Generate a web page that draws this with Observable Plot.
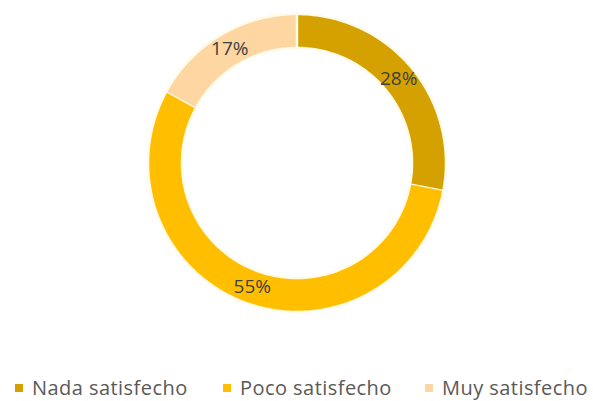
<!DOCTYPE html>
<html><head><meta charset="utf-8">
<script src="https://cdn.jsdelivr.net/npm/d3@7"></script>
<script src="https://cdn.jsdelivr.net/npm/@observablehq/plot@0.6"></script>
<style>
body{margin:0;background:#fff;width:593px;height:401px;overflow:hidden;position:relative;font-family:"Open Sans",sans-serif}
#legend{position:absolute;left:0;top:374px;width:593px;height:28px;color:#595959;font-size:20px;letter-spacing:0.45px;white-space:nowrap}
#legend .item{position:absolute;top:0;display:flex;align-items:center}
#legend .sw{width:8px;height:8px;margin-right:9px;display:inline-block}
</style></head><body>
<div id="chart"></div>
<div id="legend"></div>
<script>
const categories = ["Nada satisfecho", "Poco satisfecho", "Muy satisfecho"];
const values = [28, 55, 17];
const labels = ["28%", "55%", "17%"];
const colors = ["#D5A100", "#FFBF00", "#FDD6A2"];

const outerR = 1, innerR = 0.772;
const total = d3.sum(values);
let cum = 0;
const ring = [];
const labelRows = [];
values.forEach((v, i) => {
  const a0 = cum / total * 2 * Math.PI;
  cum += v;
  const a1 = cum / total * 2 * Math.PI;
  const n = 80;
  for (let k = 0; k <= n; k++) {
    const a = a0 + (a1 - a0) * k / n;
    ring.push({cat: categories[i], x: outerR * Math.sin(a), y: outerR * Math.cos(a)});
  }
  for (let k = n; k >= 0; k--) {
    const a = a0 + (a1 - a0) * k / n;
    ring.push({cat: categories[i], x: innerR * Math.sin(a), y: innerR * Math.cos(a)});
  }
  const am = (a0 + a1) / 2, rm = (outerR + innerR) / 2;
  labelRows.push({cat: categories[i], label: labels[i], x: rm * Math.sin(am), y: rm * Math.cos(am)});
});

const chart = Plot.plot({
  width: 593, height: 360,
  marginLeft: 147.5, marginRight: 147.5, marginTop: 13.5, marginBottom: 48.5,
  x: {domain: [-1, 1], axis: null},
  y: {domain: [-1, 1], axis: null},
  color: {type: "ordinal", domain: categories, range: colors},
  style: {background: "#fff"},
  marks: [
    Plot.line(ring, {x: "x", y: "y", z: "cat", fill: "cat", stroke: "#fffbea", strokeWidth: 2.5, curve: "linear"}),
    Plot.text(labelRows, {x: "x", y: "y", text: "label", fill: "#404040", fontSize: 19, fontFamily: "Open Sans, sans-serif"})
  ]
});
document.getElementById("chart").appendChild(chart);

const legendLeft = [15, 223, 425];
const leg = document.getElementById("legend");
categories.forEach((c, i) => {
  const it = document.createElement("div"); it.className = "item";
  it.style.left = legendLeft[i] + "px";
  const sw = document.createElement("span"); sw.className = "sw"; sw.style.background = colors[i];
  const tx = document.createElement("span"); tx.textContent = c;
  it.appendChild(sw); it.appendChild(tx); leg.appendChild(it);
});
</script>
</body></html>
